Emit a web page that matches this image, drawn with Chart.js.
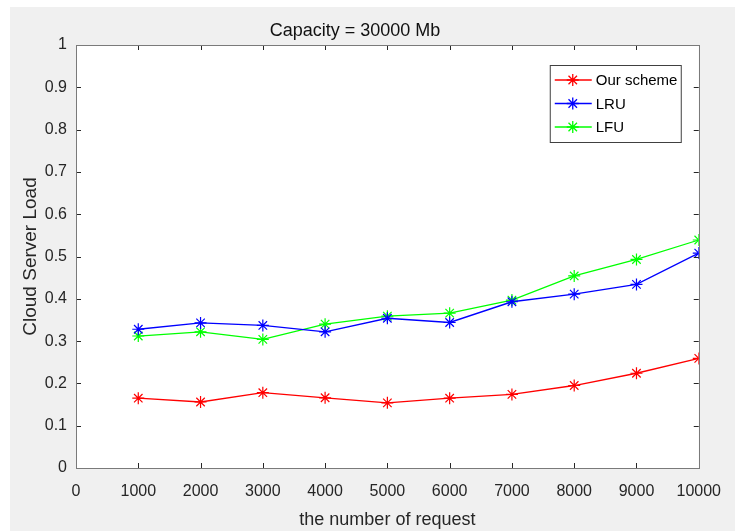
<!DOCTYPE html>
<html>
<head>
<meta charset="utf-8">
<script src="https://cdn.jsdelivr.net/npm/chart.js@4/dist/chart.umd.min.js"></script>
<style>
html, body { margin: 0; padding: 0; background: #fff; }
#wrap { position: absolute; left: 10px; top: 7px; width: 725px; height: 524px; background: #f0f0f0; }
</style>
</head>
<body>
<div id="wrap"><canvas id="chart" width="725" height="524"></canvas></div>
<script>
// Data
const requests = [1000, 2000, 3000, 4000, 5000, 6000, 7000, 8000, 9000, 10000];
const ourScheme = [0.165, 0.156, 0.178, 0.166, 0.154, 0.165, 0.174, 0.195, 0.224, 0.259];
const lru = [0.328, 0.343, 0.337, 0.322, 0.354, 0.344, 0.393, 0.411, 0.434, 0.508];
const lfu = [0.312, 0.322, 0.304, 0.340, 0.359, 0.366, 0.397, 0.454, 0.493, 0.539];
const seriesNames = ['Our scheme', 'LRU', 'LFU'];
const seriesColors = ['#ff0000', '#0000ff', '#00ff00'];

const font = 'Liberation Sans, Arial, sans-serif';
const axisColor = '#262626';

function toPoints(values) {
    return values.map((v, i) => ({ x: requests[i], y: v }));
}

// white plot area + box with inward ticks
const axesBox = {
    id: 'axesBox',
    beforeDatasetsDraw(chart) {
        const { ctx, chartArea: a } = chart;
        ctx.save();
        ctx.fillStyle = '#fff';
        ctx.fillRect(a.left, a.top, a.right - a.left, a.bottom - a.top);
        ctx.restore();
    },
    afterDatasetsDraw(chart) {
        const { ctx, chartArea: a, scales } = chart;
        const len = 5;
        ctx.save();
        ctx.strokeStyle = axisColor;
        ctx.lineWidth = 1;
        ctx.beginPath();
        scales.x.ticks.forEach(t => {
            const px = Math.round(scales.x.getPixelForValue(t.value)) + 0.5;
            ctx.moveTo(px, a.bottom); ctx.lineTo(px, a.bottom - len);
            ctx.moveTo(px, a.top); ctx.lineTo(px, a.top + len);
        });
        scales.y.ticks.forEach(t => {
            const py = Math.round(scales.y.getPixelForValue(t.value)) + 0.5;
            ctx.moveTo(a.left, py); ctx.lineTo(a.left + len, py);
            ctx.moveTo(a.right, py); ctx.lineTo(a.right - len, py);
        });
        ctx.stroke();
        ctx.strokeStyle = '#7a7a7a';
        ctx.strokeRect(Math.round(a.left) + 0.5, Math.round(a.top) + 0.5,
            Math.round(a.right - a.left), Math.round(a.bottom - a.top));
        ctx.restore();
    }
};

// MATLAB style legend: line sample with marker
const lineLegend = {
    id: 'lineLegend',
    afterDraw(chart) {
        const { ctx, chartArea: a } = chart;
        const w = 131, h = 77;
        const x0 = a.right - 18 - w, y0 = a.top + 20;
        ctx.save();
        ctx.fillStyle = '#fff';
        ctx.fillRect(x0, y0, w, h);
        ctx.strokeStyle = '#404040';
        ctx.lineWidth = 1;
        ctx.strokeRect(x0 + 0.5, y0 + 0.5, w, h);
        ctx.font = '15px ' + font;
        ctx.textBaseline = 'middle';
        chart.data.datasets.forEach((ds, i) => {
            const y = y0 + 15 + i * 23.5;
            ctx.strokeStyle = ds.borderColor;
            ctx.lineWidth = 1.3;
            ctx.beginPath();
            ctx.moveTo(x0 + 5, y); ctx.lineTo(x0 + 42, y);
            ctx.stroke();
            Chart.helpers.drawPoint(ctx, { pointStyle: 'star', radius: 6, rotation: 0, borderWidth: 1.2 }, x0 + 23, y);
            ctx.fillStyle = '#000';
            ctx.fillText(ds.label, x0 + 46, y + 1);
        });
        ctx.restore();
    }
};

new Chart(document.getElementById('chart'), {
    type: 'line',
    data: {
        datasets: [ourScheme, lru, lfu].map((vals, i) => ({
            label: seriesNames[i],
            data: toPoints(vals),
            borderColor: seriesColors[i],
            backgroundColor: seriesColors[i],
            borderWidth: 1.3,
            pointStyle: 'star',
            pointRadius: 6,
            pointBorderWidth: 1.2,
            tension: 0,
            fill: false
        }))
    },
    options: {
        responsive: false,
        animation: false,
        layout: { padding: { left: 0, top: 0, right: 35, bottom: 0 } },
        plugins: {
            legend: { display: false },
            tooltip: { enabled: false },
            title: {
                display: true,
                text: 'Capacity = 30000 Mb',
                color: '#111',
                font: { family: font, size: 18, weight: 'normal', lineHeight: 1.2 },
                padding: { top: 13, bottom: 3.4 }
            }
        },
        scales: {
            x: {
                type: 'linear',
                min: 0,
                max: 10000,
                afterFit(scale) { scale.height = 63; },
                grid: { display: false, drawTicks: false },
                border: { display: false },
                ticks: {
                    stepSize: 1000,
                    padding: 14,
                    color: axisColor,
                    maxRotation: 0,
                    font: { family: font, size: 16 },
                    callback: v => String(v)
                },
                title: {
                    display: true,
                    text: 'the number of request',
                    color: axisColor,
                    font: { family: font, size: 18 },
                    padding: { top: 0, bottom: 0 }
                }
            },
            y: {
                min: 0,
                max: 1,
                afterFit(scale) { scale.width = 66; },
                grid: { display: false, drawTicks: false },
                border: { display: false },
                ticks: {
                    stepSize: 0.1,
                    padding: 9,
                    color: axisColor,
                    font: { family: font, size: 16 },
                    callback: v => String(Math.round(v * 10) / 10)
                },
                title: {
                    display: true,
                    text: 'Cloud Server Load',
                    color: axisColor,
                    font: { family: font, size: 19 },
                    padding: { top: 9, bottom: 0 }
                }
            }
        }
    },
    plugins: [axesBox, lineLegend]
});
</script>
</body>
</html>
